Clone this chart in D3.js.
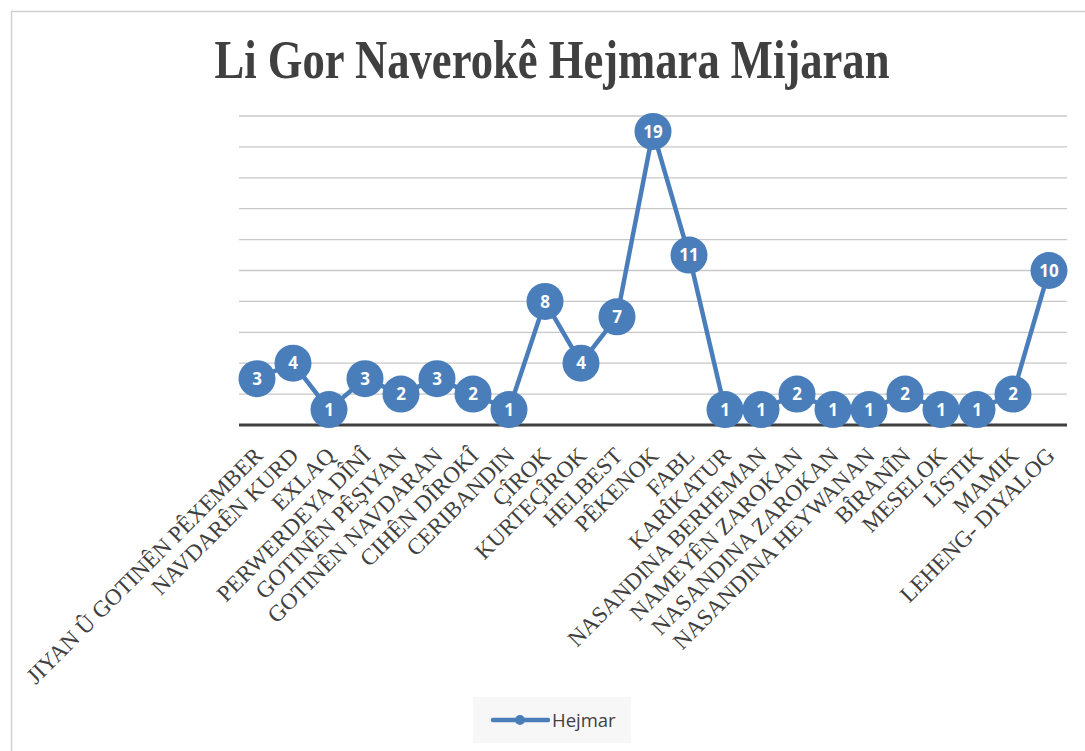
<!DOCTYPE html>
<html><head><meta charset="utf-8">
<script src="https://cdn.jsdelivr.net/npm/d3@7"></script>
<style>body{margin:0;background:#fff;}svg{display:block;}</style>
</head><body>
<svg id="c" width="1085" height="751"></svg>
<script>
const categories = ["JIYAN Û GOTINÊN PÊXEMBER","NAVDARÊN KURD","EXLAQ","PERWERDEYA DÎNÎ","GOTINÊN PÊŞIYAN","GOTINÊN NAVDARAN","CIHÊN DÎROKÎ","CERIBANDIN","ÇÎROK","KURTEÇÎROK","HELBEST","PÊKENOK","FABL","KARÎKATUR","NASANDINA BERHEMAN","NAMEYÊN ZAROKAN","NASANDINA ZAROKAN","NASANDINA HEYWANAN","BÎRANÎN","MESELOK","LÎSTIK","MAMIK","LEHENG- DIYALOG"];
const values = [3,4,1,3,2,3,2,1,8,4,7,19,11,1,1,2,1,1,2,1,1,2,10];
const gridTicks = [2,4,6,8,10,12,14,16,18,20];
const seriesName = "Hejmar";
const title = "Li Gor Naverokê Hejmara Mijaran";

const svg = d3.select("#c");
const blue = "#4a7ebb";
svg.append("rect").attr("x",11.5).attr("y",11.5).attr("width",1085).attr("height",760)
  .attr("fill","#fff").attr("stroke","#d0d0d0").attr("stroke-width",1.5);

svg.append("text").attr("x",552).attr("y",78).attr("text-anchor","middle")
  .attr("font-family","Liberation Serif").attr("font-weight","bold").attr("font-size",54)
  .attr("fill","#404040").attr("textLength",675).attr("lengthAdjust","spacingAndGlyphs").text(title);

const x = d3.scaleBand().domain(categories).range([239,1067]);
const y = d3.scaleLinear().domain([0,20]).range([425,116]);

svg.append("g").selectAll("line").data(gridTicks).join("line")
  .attr("x1",239).attr("x2",1067).attr("y1",d=>y(d)).attr("y2",d=>y(d))
  .attr("stroke","#c8c8c8").attr("stroke-width",1.3);

svg.append("line").attr("x1",239).attr("x2",1067).attr("y1",y(0)).attr("y2",y(0))
  .attr("stroke","#404040").attr("stroke-width",3);

const cx = d => x(d) + x.bandwidth()/2;
svg.append("g").selectAll("text").data(categories).join("text")
  .attr("transform",d=>`translate(${cx(d)+7},${y(0)+32}) rotate(-45)`)
  .attr("text-anchor","end")
  .attr("font-family","Liberation Serif").attr("font-size",23).attr("fill","#404040")
  .text(d=>d);

const line = d3.line().x((d,i)=>cx(categories[i])).y(d=>y(d));
svg.append("path").datum(values).attr("d",line).attr("fill","none")
  .attr("stroke",blue).attr("stroke-width",4.5).attr("stroke-linejoin","round");

const pts = svg.append("g").selectAll("g").data(values).join("g")
  .attr("transform",(d,i)=>`translate(${cx(categories[i])},${y(d)})`);
pts.append("circle").attr("r",18.5).attr("fill",blue);
pts.append("text").attr("text-anchor","middle").attr("dy","0.36em")
  .attr("font-family","Open Sans").attr("font-weight","bold").attr("font-size",17)
  .attr("fill","#fff").text(d=>d);

const lg = svg.append("g");
lg.append("rect").attr("x",473).attr("y",697).attr("width",158).attr("height",46).attr("fill","#f7f7f7");
lg.append("line").attr("x1",493).attr("x2",548).attr("y1",720).attr("y2",720)
  .attr("stroke",blue).attr("stroke-width",4.5).attr("stroke-linecap","round");
lg.append("circle").attr("cx",520).attr("cy",720).attr("r",5).attr("fill",blue);
lg.append("text").attr("x",552).attr("y",727).attr("font-family","Open Sans")
  .attr("font-size",18.5).attr("fill","#404040").text(seriesName);
</script>
</body></html>
